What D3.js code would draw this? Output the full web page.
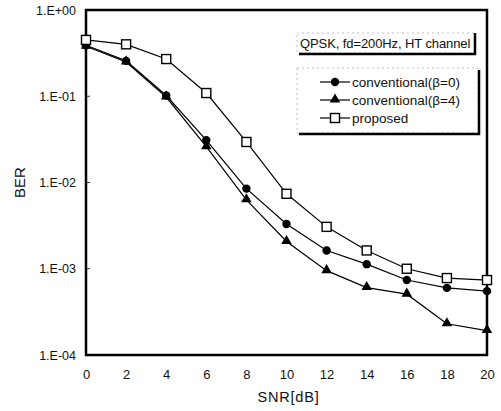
<!DOCTYPE html>
<html>
<head>
<meta charset="utf-8">
<script src="https://cdn.jsdelivr.net/npm/d3@7"></script>
<style>
  body { margin: 0; background: #fff; }
  text { font-family: "Liberation Sans", Arial, sans-serif; fill: #111; }
</style>
</head>
<body>
<svg id="chart" width="501" height="411"></svg>
<script>
// SNR values (dB)
const snr = [0, 2, 4, 6, 8, 10, 12, 14, 16, 18, 20];
// BER per series
const berConv0 = [0.39, 0.257, 0.102, 0.031, 0.0085, 0.0033, 0.00163, 0.00113, 0.00074, 0.0006, 0.00055];
const berConv4 = [0.38, 0.25, 0.098, 0.026, 0.0063, 0.00207, 0.00095, 0.000605, 0.000507, 0.00023, 0.000192];
const berProp  = [0.45, 0.40, 0.27, 0.109, 0.0295, 0.0074, 0.00306, 0.00163, 0.001, 0.00078, 0.00074];
const seriesNames = ["conventional(\u03b2=0)", "conventional(\u03b2=4)", "proposed"];
const yTicks = [1, 0.1, 0.01, 0.001, 0.0001];
const yTickLabels = ["1.E+00", "1.E-01", "1.E-02", "1.E-03", "1.E-04"];
const xTicks = [0, 2, 4, 6, 8, 10, 12, 14, 16, 18, 20];
const legendTitle = "QPSK, fd=200Hz, HT channel";

let margin = {top: 10, right: 14, bottom: 56, left: 86};
let width = 501 - margin.left - margin.right;
let height = 411 - margin.top - margin.bottom;

var svg = d3.select("#chart");
var g = svg.append("g").attr("transform", "translate(" + margin.left + "," + margin.top + ")");

var x = d3.scaleLinear().domain([0, 20]).range([0, width]);
var y = d3.scaleLog().domain([1e-4, 1]).range([height, 0]);

// y axis labels
var yAxis = d3.axisLeft(y).tickValues(yTicks)
  .tickFormat((d, i) => yTickLabels[i]).tickSize(0).tickPadding(10);
g.append("g").call(yAxis)
  .call(a => a.select(".domain").remove())
  .selectAll("text").style("font-size", "12.5px");

// small inward ticks on the left axis
g.selectAll(".ytk").data(yTicks).enter().append("line")
  .attr("x1", 0).attr("x2", 4)
  .attr("y1", d => y(d)).attr("y2", d => y(d))
  .attr("stroke", "#333").attr("stroke-width", 1);

// x axis labels
var xAxis = d3.axisBottom(x).tickValues(xTicks).tickSize(0).tickPadding(15);
g.append("g").attr("transform", "translate(0," + height + ")").call(xAxis)
  .call(a => a.select(".domain").remove())
  .selectAll("text").style("font-size", "13px");

// axis titles
g.append("text")
  .attr("x", width / 2 + 2).attr("y", height + 47)
  .attr("text-anchor", "middle").style("font-size", "14.5px")
  .style("letter-spacing", "0.8px")
  .text("SNR[dB]");
svg.append("text")
  .attr("transform", "translate(25," + (margin.top + y(0.01)) + ") rotate(-90)")
  .attr("text-anchor", "middle").style("font-size", "15px")
  .text("BER");

// frame
g.append("rect").attr("x", 0).attr("y", 0)
  .attr("width", width).attr("height", height)
  .attr("fill", "none").attr("stroke", "#000").attr("stroke-width", 2.5);

var line = d3.line().x((d, i) => x(snr[i])).y(d => y(d));
var allSeries = [berConv0, berConv4, berProp];
allSeries.forEach(function(s) {
  g.append("path").datum(s).attr("d", line)
    .attr("fill", "none").attr("stroke", "#000").attr("stroke-width", 1.2);
});

function drawMarker(sel, kind, cx, cy) {
  if (kind === 0) {
    sel.append("circle").attr("cx", cx).attr("cy", cy).attr("r", 4.2).attr("fill", "#000");
  } else if (kind === 1) {
    sel.append("path").attr("d", d3.symbol().type(d3.symbolTriangle).size(48)())
      .attr("transform", "translate(" + cx + "," + (cy - 0.5) + ")").attr("fill", "#000");
  } else {
    sel.append("rect").attr("x", cx - 4.5).attr("y", cy - 4.5)
      .attr("width", 9).attr("height", 9)
      .attr("fill", "#fff").attr("stroke", "#000").attr("stroke-width", 1.4);
  }
}

allSeries.forEach(function(s, k) {
  s.forEach(function(v, i) { drawMarker(g, k, x(snr[i]), y(v)); });
});

// legend title box
var tb = {x: 297, y: 33, w: 177, h: 20};
svg.append("rect").attr("x", tb.x).attr("y", tb.y).attr("width", tb.w).attr("height", tb.h)
  .attr("fill", "#fff").attr("stroke", "#999").attr("stroke-width", 0.6).attr("stroke-dasharray", "2,3");
svg.append("path")
  .attr("d", "M" + (tb.x + 2) + "," + (tb.y + tb.h + 1) + "H" + (tb.x + tb.w + 1) + "V" + tb.y)
  .attr("fill", "none").attr("stroke", "#000").attr("stroke-width", 2.5);
svg.append("text").attr("x", tb.x + 3).attr("y", tb.y + 15)
  .style("font-size", "13px").style("letter-spacing", "-0.1px").text(legendTitle);

// legend box
var lb = {x: 297, y: 68, w: 181, h: 65};
svg.append("rect").attr("x", lb.x).attr("y", lb.y).attr("width", lb.w).attr("height", lb.h)
  .attr("fill", "#fff").attr("stroke", "#999").attr("stroke-width", 0.6).attr("stroke-dasharray", "2,3");
svg.append("path")
  .attr("d", "M" + (lb.x + 2) + "," + (lb.y + lb.h + 1) + "H" + (lb.x + lb.w + 1) + "V" + (lb.y + 2))
  .attr("fill", "none").attr("stroke", "#000").attr("stroke-width", 2.5);

var legendY = [82, 100, 118];
seriesNames.forEach(function(name, k) {
  var ly = legendY[k];
  svg.append("line").attr("x1", 320).attr("x2", 350).attr("y1", ly).attr("y2", ly)
    .attr("stroke", "#000").attr("stroke-width", 1.2);
  drawMarker(svg, k, 335, ly);
  svg.append("text").attr("x", 352).attr("y", ly + 4.5)
    .style("font-size", "13.5px").text(name);
});
</script>
</body>
</html>
